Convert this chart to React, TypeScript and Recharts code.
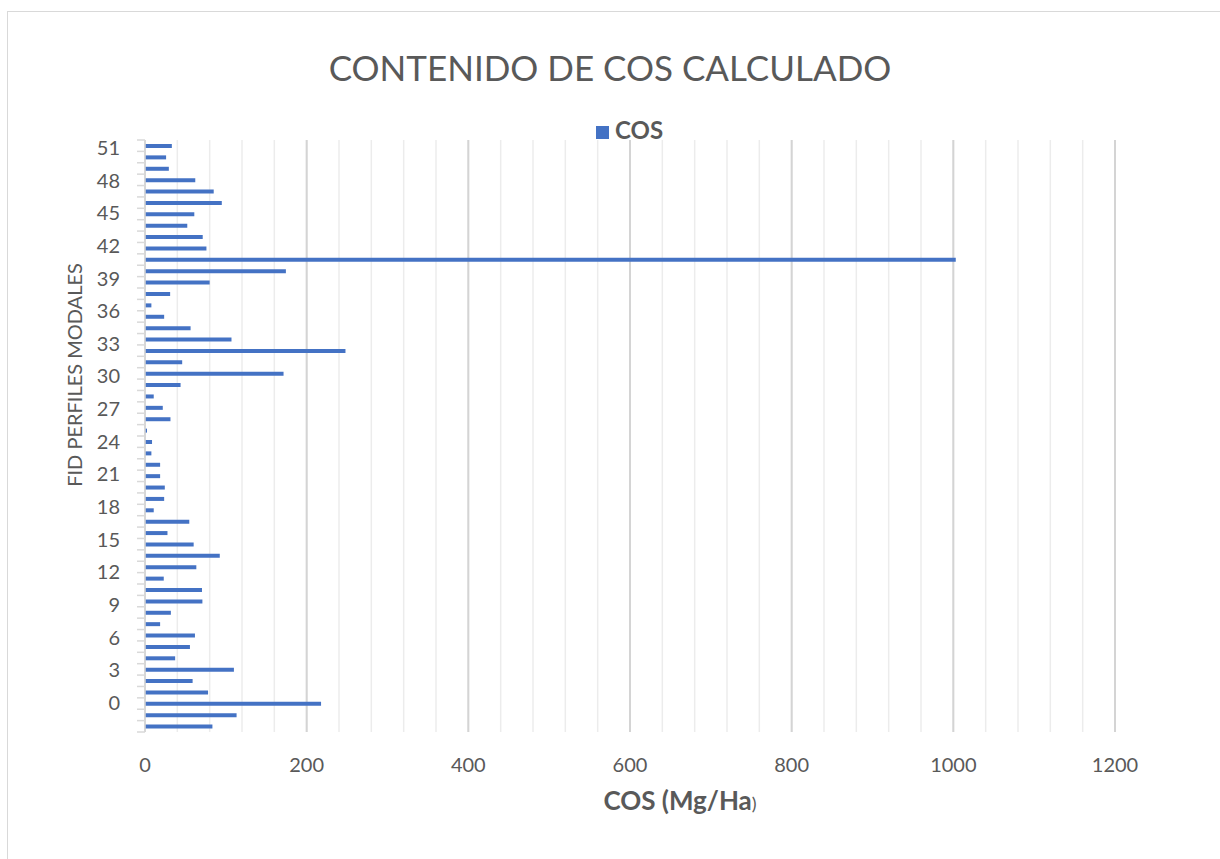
// COS content per modal profile (FID) as a horizontal bar chart, Excel look.

import { Bar, BarChart, CartesianGrid, Label, XAxis, YAxis } from "recharts";

const W = 1220;
const H = 859;
const PLOT_TOP = 140;
const PLOT_BOTTOM = 732;
const TEXT = "#595959";
const FONT = "Lato, 'Open Sans', sans-serif";

// FID of each modal profile, bottom to top
const fid = [
  0, 1, 2, 3, 4, 5, 6, 7, 8, 9, 10, 11, 12, 13, 14, 15, 16, 17, 18, 19, 20, 21, 22, 23, 24, 25,
  26, 27, 28, 29, 30, 31, 32, 33, 34, 35, 36, 37, 38, 39, 40, 41, 42, 43, 44, 45, 46, 47, 48, 49, 50, 51,
];

// COS (Mg/Ha) per FID
const cos = [
  83.4, 113.3, 217.8, 78, 58.9, 110, 37.3, 55.6, 61.8, 18.7, 32, 71, 70.5, 23.2, 63.5, 92.5, 60.2,
  27.8, 54.8, 10.8, 23.7, 24.5, 18.7, 18.7, 7.9, 8.7, 2.5, 31.5, 22, 10.8, 44, 171.4, 46, 248, 107,
  56.4, 23.7, 7.9, 31.1, 80, 174.3, 1003, 76, 71.4, 52.3, 61, 95, 85, 62.2, 29.5, 26.1, 33.2,
];

const xGridTicks = [
  0, 40, 80, 120, 160, 200, 240, 280, 320, 360, 400, 440, 480, 520, 560, 600, 640, 680, 720, 760,
  800, 840, 880, 920, 960, 1000, 1040, 1080, 1120, 1160, 1200,
];
const xLabelTicks = [0, 200, 400, 600, 800, 1000, 1200];
const yLabelTicks = [0, 3, 6, 9, 12, 15, 18, 21, 24, 27, 30, 33, 36, 39, 42, 45, 48, 51];

const rows = fid.map((f, i) => ({ fid: f, cos: cos[i] }));
const BAND = (PLOT_BOTTOM - PLOT_TOP) / fid.length;
// the FID labels in the source sit a little tighter than the bars
const LABEL_TOP = 147;
const LABEL_STEP = 10.88;
const MAX_FID = fid[fid.length - 1];

// category ticks sit on the band edges, like Excel
function CatTick(props: any) {
  const { x, y, index, payload } = props;
  const v = Number(payload.value);
  return (
    <g>
      <line x1={x} x2={x + 8} y1={y - BAND / 2} y2={y - BAND / 2} stroke="#d9d9d9" strokeWidth={1.5} />
      {index === 0 && (
        <line x1={x} x2={x + 8} y1={y + BAND / 2} y2={y + BAND / 2} stroke="#d9d9d9" strokeWidth={1.5} />
      )}
      {yLabelTicks.includes(v) && (
        <text
          x={x - 17}
          y={LABEL_TOP + (MAX_FID - v) * LABEL_STEP}
          textAnchor="end"
          dominantBaseline="central"
          fill={TEXT}
          fontFamily={FONT}
          fontSize={20}
        >
          {v}
        </text>
      )}
    </g>
  );
}

export default function App() {
  return (
    <div style={{ position: "fixed", left: 0, top: 0, width: W, height: H, overflow: "hidden", background: "#fff" }}>
      <svg width={W} height={H} style={{ position: "absolute", left: 0, top: 0 }}>
        <rect x={7.5} y={11.5} width={1240} height={870} fill="none" stroke="#d9d9d9" />
        <text x={610} y={81} textAnchor="middle" fill={TEXT} fontFamily={FONT} fontSize={35}>
          CONTENIDO DE COS CALCULADO
        </text>
        <rect x={596} y={126} width={13} height={13} fill="#4472C4" />
        <text x={615} y={139} fill={TEXT} fontFamily={FONT} fontSize={24} fontWeight={700}>
          COS
        </text>
      </svg>

      <div style={{ position: "absolute", left: 0, top: 0 }}>
        <BarChart
          width={W}
          height={H}
          data={rows}
          layout="vertical"
          margin={{ top: PLOT_TOP, right: 105, bottom: H - PLOT_BOTTOM - 60, left: 0 }}
        >
          <CartesianGrid yAxisId="cat" horizontal={false} stroke="#ececec" strokeWidth={1.5} />
          <CartesianGrid
            yAxisId="cat"
            horizontal={false}
            stroke="#d4d4d4"
            strokeWidth={2}
            verticalCoordinatesGenerator={({ offset }: any) =>
              xLabelTicks.map((v) => offset.left + (v / 1200) * offset.width)
            }
          />
          <XAxis
            type="number"
            domain={[0, 1200]}
            ticks={xGridTicks}
            interval={0}
            tickFormatter={(v: number) => (xLabelTicks.includes(v) ? String(v) : "")}
            axisLine={false}
            tickLine={false}
            tickSize={0}
            tickMargin={26}
            height={60}
            tick={{ fill: TEXT, fontSize: 20, fontFamily: FONT }}
          >
            <Label
              content={({ viewBox }: any) => (
                <text
                  x={viewBox.x + viewBox.width / 2 + 50}
                  y={viewBox.y + 78}
                  textAnchor="middle"
                  fill={TEXT}
                  fontFamily={FONT}
                  fontSize={26}
                  fontWeight={700}
                >
                  COS (Mg/Ha<tspan fontWeight={400} fontSize={18}>)</tspan>
                </text>
              )}
            />
          </XAxis>
          <YAxis
            yAxisId="cat"
            type="category"
            dataKey="fid"
            reversed
            width={145}
            interval={0}
            tickLine={false}
            tickSize={8}
            tickMargin={0}
            axisLine={{ stroke: "#d9d9d9", strokeWidth: 1.5 }}
            tick={(p: any) => <CatTick {...p} />}
          >
            <Label
              content={({ viewBox }: any) => (
                <text
                  x={viewBox.x + 74}
                  y={375}
                  transform={`rotate(-90 ${viewBox.x + 74} 375)`}
                  textAnchor="middle"
                  dominantBaseline="central"
                  fill={TEXT}
                  fontFamily={FONT}
                  fontSize={20}
                >
                  FID PERFILES MODALES
                </text>
              )}
            />
          </YAxis>
          <Bar yAxisId="cat" dataKey="cos" name="COS" fill="#4472C4" barSize={4} isAnimationActive={false} />
        </BarChart>
      </div>
    </div>
  );
}
